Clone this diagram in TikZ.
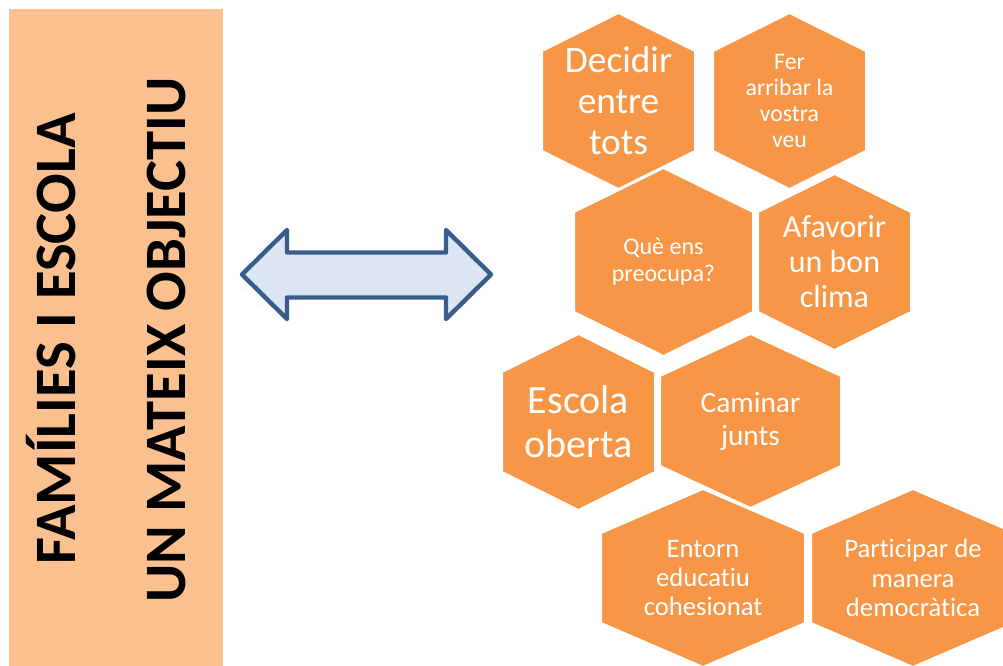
\documentclass[tikz,border=0pt]{standalone}
\usepackage{fontspec}
\setmainfont{Carlito}[Ligatures=NoCommon]
\definecolor{hexorange}{HTML}{F79646}
\definecolor{panelpeach}{HTML}{FAC090}
\definecolor{arrowblue}{HTML}{385D8A}
\definecolor{arrowfill}{HTML}{DCE6F2}
\tikzset{
  hexcell/.style={fill=hexorange, draw=white, line width=1.5pt, line join=miter},
  hexlabel/.style={text=white, align=center, inner sep=0pt},
  paneltitle/.style={rotate=90, anchor=base, inner sep=0pt, font=\fontsize{44}{52}\selectfont\bfseries},
}
\begin{document}
\begin{tikzpicture}[x=0.75pt, y=-0.75pt]
\useasboundingbox (0, 0) rectangle (1003, 666);
\fill[panelpeach] (9, 9) rectangle (223, 672);
\node[paneltitle] (familia) at (75, 339) {FAMÍLIES I ESCOLA};
\node[paneltitle] (objectiu) at (185, 340) {UN MATEIX OBJECTIU};
\draw[draw=arrowblue, fill=arrowfill, line width=3.3pt, line join=round] (242, 274.5) -- (287, 230) -- (287, 252.5) -- (446, 252.5) -- (446, 230) -- (491, 274.5) -- (446, 319) -- (446, 297.5) -- (287, 297.5) -- (287, 319) -- cycle;
\filldraw[hexcell] (618.5, 13) -- (695, 51) -- (695, 151) -- (618.5, 189) -- (542, 151) -- (542, 51) -- cycle;
\node[hexlabel, font=\fontsize{28}{30.75}\selectfont] (decidir) at (618.5, 101) {Decidir\\entre\\tots};
\filldraw[hexcell] (789.5, 13) -- (866, 51) -- (866, 151) -- (789.5, 189) -- (713, 151) -- (713, 51) -- cycle;
\node[hexlabel, font=\fontsize{17.8}{19.5}\selectfont] (veu) at (789.5, 101) {Fer\\arribar la\\vostra\\veu};
\filldraw[hexcell] (663.5, 168) -- (753, 212) -- (753, 312) -- (663.5, 356) -- (574, 312) -- (574, 212) -- cycle;
\node[hexlabel, font=\fontsize{18}{20}\selectfont] (preocupa) at (663.5, 262) {Què ens\\preocupa?};
\filldraw[hexcell] (834.5, 174) -- (911, 212) -- (911, 312) -- (834.5, 350) -- (758, 312) -- (758, 212) -- cycle;
\node[hexlabel, font=\fontsize{24}{26.25}\selectfont] (clima) at (834.5, 262) {Afavorir\\un bon\\clima};
\filldraw[hexcell] (578.5, 334) -- (655, 372) -- (655, 472) -- (578.5, 510) -- (502, 472) -- (502, 372) -- cycle;
\node[hexlabel, font=\fontsize{30}{33.2}\selectfont] (oberta) at (578.5, 422) {Escola\\oberta};
\filldraw[hexcell] (750.5, 334) -- (841, 376) -- (841, 466) -- (750.5, 508) -- (660, 466) -- (660, 376) -- cycle;
\node[hexlabel, font=\fontsize{22}{24.75}\selectfont] (junts) at (750.5, 421) {Caminar\\junts};
\filldraw[hexcell] (703, 489) -- (805, 533) -- (805, 623) -- (703, 667) -- (601, 623) -- (601, 533) -- cycle;
\node[hexlabel, font=\fontsize{20}{22}\selectfont] (entorn) at (703, 578) {Entorn\\educatiu\\cohesionat};
\filldraw[hexcell] (913, 489) -- (1015, 533) -- (1015, 623) -- (913, 667) -- (811, 623) -- (811, 533) -- cycle;
\node[hexlabel, font=\fontsize{20}{22}\selectfont] (participar) at (913, 578) {Participar de\\manera\\democràtica};
\end{tikzpicture}
\end{document}
